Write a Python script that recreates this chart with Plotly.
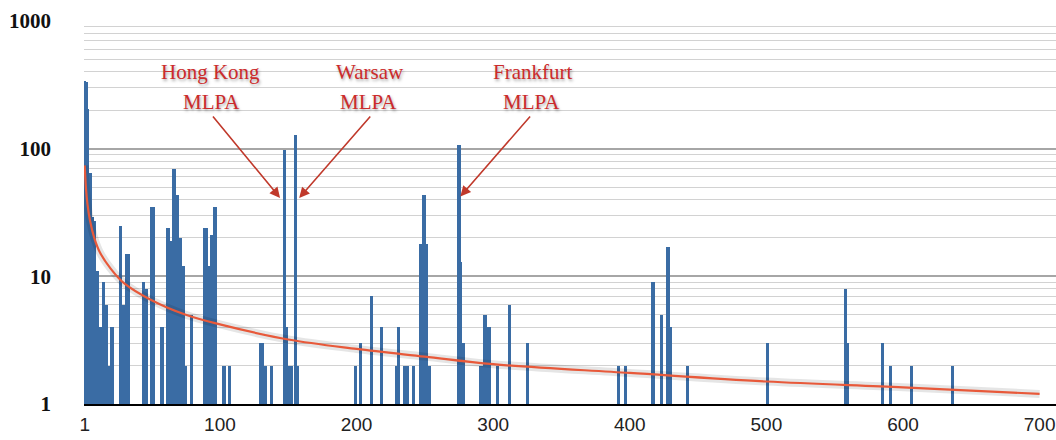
import plotly.graph_objects as go

# ---------------- data ----------------
rank = [1, 2, 3, 5, 7, 8, 10, 12, 13, 15, 17, 19, 21,
        27, 29, 30, 32, 33, 44, 46, 50, 51,
        57, 58, 62, 64, 66, 67, 69, 71, 73, 75, 79,
        89, 90, 92, 94, 96, 97, 103, 107,
        130, 131, 133, 138, 147, 149, 151, 152, 155, 157,
        199, 203, 211, 218, 229, 231, 235, 237, 242,
        247, 249, 250, 251, 253,
        275, 276, 278, 291, 292, 294, 296, 297, 303, 312, 325,
        392, 397, 417, 423, 428, 430, 442,
        501, 558, 559, 585, 591, 606, 636]
count = [340, 330, 205, 65, 29, 27, 11, 4, 4, 9, 6, 2, 4,
         25, 6, 6, 15, 15, 9, 8, 35, 35,
         4, 4, 24, 19, 69, 69, 43, 20, 12, 2, 5,
         24, 24, 12, 21, 35, 35, 2, 2,
         3, 3, 2, 2, 98, 4, 2, 2, 128, 2,
         2, 3, 7, 4, 2, 4, 2, 2, 2,
         18, 43, 43, 18, 2,
         107, 13, 3, 2, 2, 5, 4, 4, 2, 6, 3,
         2, 2, 9, 5, 17, 4, 2,
         3, 8, 3, 3, 2, 2, 2]

# trend curve at a few ranks
trend_rank = [1, 2, 3, 5, 8, 12, 20, 30, 50, 75, 100, 150, 200, 250, 300, 400, 500, 600, 700]
trend_val = [74, 48, 37, 27, 20, 15.5, 11.5, 8.8, 6.5, 5.0, 4.2, 3.2, 2.7, 2.35, 2.05, 1.75, 1.5, 1.35, 1.2]

x_tick_vals = [1, 100, 200, 300, 400, 500, 600, 700]
x_tick_text = ["1", "100", "200", "300", "400", "500", "600", "700"]
y_tick_vals = [1, 10, 100, 1000]
y_tick_text = ["1", "10", "100", "1000"]
y_minor_vals = [2, 3, 4, 5, 6, 7, 8, 9,
                20, 30, 40, 50, 60, 70, 80, 90,
                200, 300, 400, 500, 600, 700, 800, 900]

# annotations: labels and arrows (x in rank units, y in log10 units)
label_names = ["Hong Kong", "Warsaw", "Frankfurt"]
label_x = [93, 210, 329]
label_y = [2.60, 2.60, 2.60]
sub_label = "MLPA"
sub_x = [94, 209, 328]
sub_y = [2.365, 2.365, 2.365]
arrow_tail_x = [94, 211, 328]
arrow_tail_y = [2.264, 2.264, 2.264]
arrow_head_x = [144, 158, 276]
arrow_head_y = [1.614, 1.614, 1.625]

BAR = "#3a6ca4"
RED_LINE = "#e8593a"
RED_TEXT = "#cc2b2b"

fig = go.Figure()
fig.add_trace(go.Bar(x=rank, y=count, width=2.3, marker=dict(color=BAR, line=dict(width=0)),
                     showlegend=False, hoverinfo="x+y"))
fig.add_trace(go.Scatter(x=trend_rank, y=trend_val, mode="lines", line_shape="spline",
                         line=dict(color="rgba(0,0,0,0.10)", width=8), showlegend=False,
                         hoverinfo="skip"))
fig.add_trace(go.Scatter(x=trend_rank, y=trend_val, mode="lines", line_shape="spline",
                         line=dict(color=RED_LINE, width=2.2), showlegend=False))

annotations = []
for name, x, y in zip(label_names, label_x, label_y):
    annotations.append(dict(x=x, y=y, xref="x", yref="y", text=name, showarrow=False,
                            font=dict(family="Liberation Serif", size=21, color=RED_TEXT,
                                      shadow="1px 2px 3px rgba(0,0,0,0.35)")))
for x, y in zip(sub_x, sub_y):
    annotations.append(dict(x=x, y=y, xref="x", yref="y", text=sub_label, showarrow=False,
                            font=dict(family="Liberation Serif", size=21, color=RED_TEXT,
                                      shadow="1px 2px 3px rgba(0,0,0,0.35)")))
for tx, ty, hx, hy in zip(arrow_tail_x, arrow_tail_y, arrow_head_x, arrow_head_y):
    annotations.append(dict(x=hx, y=hy, xref="x", yref="y", ax=tx, ay=ty,
                            axref="x", ayref="y", text="", showarrow=True,
                            arrowhead=2, arrowsize=1.3, arrowwidth=1.6,
                            arrowcolor="#c0392b", standoff=0, startstandoff=0))

fig.update_layout(
    width=1056, height=440,
    margin=dict(l=84, r=0, t=21, b=36, autoexpand=False),
    paper_bgcolor="white", plot_bgcolor="white",
    bargap=0,
    annotations=annotations,
    xaxis=dict(range=[0.5, 712], tickmode="array", tickvals=x_tick_vals, ticktext=x_tick_text,
               automargin=False, ticklabeloverflow="allow", ticklabelstandoff=2,
               showgrid=False, zeroline=False, showline=True, linecolor="black", linewidth=2,
               ticks="", tickfont=dict(family="Liberation Sans", size=19, color="#222")),
    yaxis=dict(type="log", range=[0, 3], tickmode="array", tickvals=y_tick_vals,
               ticktext=y_tick_text, showgrid=True, gridcolor="#a6a6a6", gridwidth=1.5,
               automargin=False,
               zeroline=False, showline=False, ticks="", ticklabelstandoff=32,
               tickfont=dict(family="Liberation Serif", size=21, color="#111", weight="bold"),
               minor=dict(tickmode="array", tickvals=y_minor_vals, showgrid=True,
                          gridcolor="#d2d2d2", gridwidth=1.3, ticks="")),
)

# remove the default 8px page margin so the 1056x440 figure fills the window exactly
fig.write_html(
    "out.html",
    config={"displayModeBar": False},
    post_script="document.body.style.margin='0';"
                "document.body.style.overflow='hidden';"
                "document.documentElement.style.overflow='hidden';",
)
